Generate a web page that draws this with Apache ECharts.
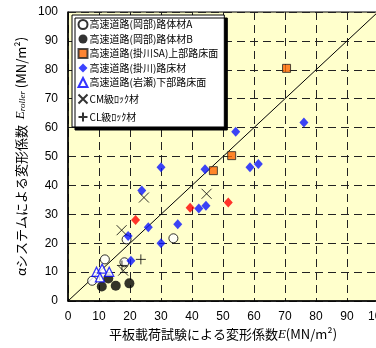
<!DOCTYPE html>
<html>
<head>
<meta charset="utf-8">
<script src="https://cdn.jsdelivr.net/npm/echarts@6/dist/echarts.min.js"></script>
<style>
  html, body { margin: 0; padding: 0; background: #fff; }
  #chart { width: 376px; height: 348px; }
</style>
</head>
<body>
<div id="chart"></div>
<script>
  // 各データ [平板載荷試験 E, αシステム Eroller]
  var okabeA = [[18.9, 21.3], [34.0, 21.7], [11.9, 14.4], [18.2, 13.4], [7.8, 7.0]];
  var okabeB = [[13.0, 7.8], [10.9, 5.0], [15.4, 5.3], [19.8, 6.1]];
  var kakegawaSA = [[46.9, 45.1], [52.8, 50.3], [70.5, 80.5]];
  var kakegawa = [[30.0, 46.3], [44.2, 45.6], [54.1, 58.6], [76.1, 61.8], [58.7, 46.3], [61.4, 47.4],
    [23.8, 38.2], [42.2, 32.0], [44.5, 33.0], [25.9, 25.5], [35.4, 26.6], [19.4, 22.5],
    [30.0, 20.0], [20.3, 13.9]];
  var kakegawaRed = [[21.8, 28.0], [39.4, 32.3], [51.7, 34.1]];
  var iwase = [[9.2, 10.1], [11.0, 11.2], [13.3, 10.1], [10.3, 8.2]];
  var cmRock = [[24.5, 35.8], [44.7, 37.1], [17.3, 24.5], [17.8, 10.5]];
  var clRock = [[23.5, 14.4], [17.4, 12.3]];
  var diagonal = [[0, 0], [100, 100]];

  var names = ['高速道路(岡部)路体材A', '高速道路(岡部)路体材B', '高速道路(掛川SA)上部路床面',
    '高速道路(掛川)路床材', '高速道路(岩瀬)下部路床面', 'CM級ﾛｯｸ材', 'CL級ﾛｯｸ材'];

  var chart = echarts.init(document.getElementById('chart'));
  var font = 'Liberation Sans, Arial, Noto Sans CJK JP, sans-serif';
  var jpFont = 'Noto Sans CJK JP, sans-serif';

  chart.setOption({
    animation: false,
    textStyle: { fontFamily: font },
    grid: {
      left: 68, top: 12, width: 310, height: 289,
      outerBoundsMode: 'none',
      containLabel: false,
      show: true,
      backgroundColor: '#FFFFCC',
      borderColor: '#000',
      borderWidth: 1
    },
    legend: {
      orient: 'vertical',
      left: 72,
      top: 15,
      width: 150,
      padding: [4, 6, 3, 4],
      itemGap: 4,
      itemWidth: 9,
      itemHeight: 9,
      backgroundColor: '#fff',
      borderColor: '#000',
      borderWidth: 1,
      shadowColor: '#000',
      shadowBlur: 0,
      shadowOffsetX: 3,
      shadowOffsetY: 3,
      textStyle: { fontFamily: jpFont, fontSize: 10, color: '#000', padding: [0, 0, 0, -3] },
      data: names
    },
    xAxis: {
      type: 'value',
      min: 0, max: 100, interval: 10,
      name: '平板載荷試験による変形係数{e|E}(MN/m²)',
      nameLocation: 'middle',
      nameGap: 22,
      nameTextStyle: {
        fontFamily: jpFont, fontSize: 13, color: '#000',
        rich: { e: { fontFamily: 'Liberation Serif, serif', fontStyle: 'italic', fontSize: 13 } }
      },
      axisLine: { lineStyle: { color: '#000', width: 1.5 } },
      axisTick: { show: false },
      axisLabel: { color: '#000', fontSize: 12, margin: 10, showMaxLabel: true },
      splitLine: { show: true, lineStyle: { color: '#222', type: [8, 5], width: 1 } }
    },
    yAxis: {
      type: 'value',
      min: 0, max: 100, interval: 10,
      name: 'αシステムによる変形係数  {e|E}{r|roller} (MN/m²)',
      nameLocation: 'middle',
      nameRotate: 90,
      nameGap: 32,
      nameTextStyle: {
        fontFamily: jpFont, fontSize: 13, color: '#000',
        rich: {
          e: { fontFamily: 'Liberation Serif, serif', fontStyle: 'italic', fontSize: 13 },
          r: { fontFamily: 'Liberation Serif, serif', fontStyle: 'italic', fontSize: 9, verticalAlign: 'bottom' }
        }
      },
      axisLine: { lineStyle: { color: '#000', width: 1.5 } },
      axisTick: { show: false },
      axisLabel: { color: '#000', fontSize: 12, margin: 10 },
      splitLine: { show: true, lineStyle: { color: '#222', type: [8, 5], width: 1 } }
    },
    series: [
      {
        name: 'diag',
        type: 'line',
        data: diagonal,
        symbol: 'none',
        lineStyle: { color: '#000', width: 1 },
        z: 1
      },
      {
        name: names[0], type: 'scatter', data: okabeA,
        symbol: 'circle', symbolSize: 9,
        itemStyle: { color: '#fff', borderColor: '#000', borderWidth: 1 }
      },
      {
        name: names[1], type: 'scatter', data: okabeB,
        symbol: 'circle', symbolSize: 10,
        itemStyle: { color: '#000' }
      },
      {
        name: names[2], type: 'scatter', data: kakegawaSA,
        symbol: 'rect', symbolSize: 8,
        itemStyle: { color: '#FF6600', borderColor: '#222', borderWidth: 1 }
      },
      {
        name: names[3], type: 'scatter', data: kakegawa,
        symbol: 'diamond', symbolSize: [9, 10],
        itemStyle: { color: '#0A14FF' }
      },
      {
        name: 'red', type: 'scatter', data: kakegawaRed,
        symbol: 'diamond', symbolSize: [9, 10],
        itemStyle: { color: '#FF0000' }
      },
      {
        name: names[4], type: 'scatter', data: iwase,
        symbol: 'triangle', symbolSize: 9,
        itemStyle: { color: '#fff', borderColor: '#0000FF', borderWidth: 1.3 }
      },
      {
        name: names[5], type: 'scatter', data: cmRock,
        symbol: 'path://M0,0L10,10M10,0L0,10', symbolSize: 10,
        itemStyle: { color: 'none', borderColor: '#000', borderWidth: 1 }
      },
      {
        name: names[6], type: 'scatter', data: clRock,
        symbol: 'path://M5,0L5,10M0,5L10,5', symbolSize: 10,
        itemStyle: { color: 'none', borderColor: '#000', borderWidth: 1 }
      }
    ]
  });
</script>
</body>
</html>
